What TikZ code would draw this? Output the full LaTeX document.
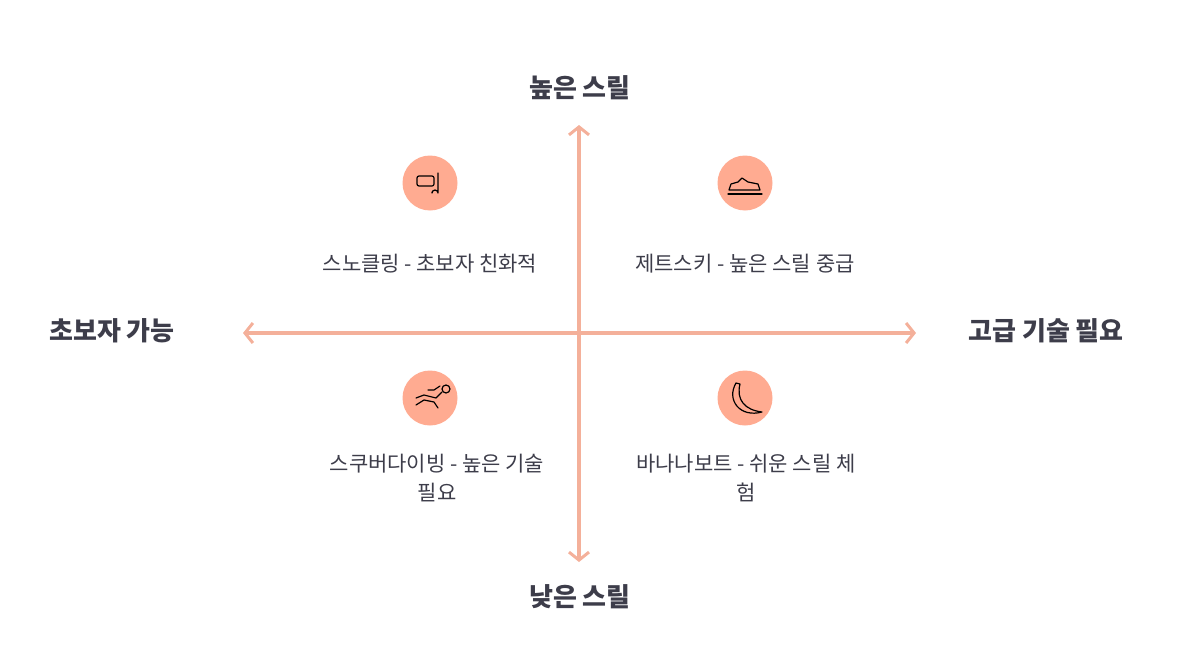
\documentclass[tikz,border=0pt]{standalone}
\usepackage{fontspec}
\setmainfont{Noto Sans CJK KR}
\usetikzlibrary{arrows.meta}
\definecolor{ax}{HTML}{F4B09A}
\definecolor{circ}{HTML}{FFAB91}
\definecolor{txt}{HTML}{3D3D4A}
\tikzset{
 axis/.style={draw=ax,line width=3.5pt,-{Straight Barb[length=8pt,width=20pt,line width=3pt]}},
 dot/.style={circle,fill=circ,minimum size=55pt,inner sep=0pt},
 big/.style={font=\fontsize{26}{30}\selectfont\bfseries,text=txt},
 lab/.style={font=\fontsize{21}{29}\selectfont,text=txt,align=center},
 ic/.style={draw=black,line width=1.2pt,line cap=round,line join=round}
}
\begin{document}
\begin{tikzpicture}[x=1pt,y=-1pt]
\useasboundingbox (0,0) rectangle (1187,653);
\coordinate (c) at (579,333);
\coordinate (l) at (243,333);
\coordinate (r) at (916,333);
\coordinate (t) at (579,125);
\coordinate (b) at (579,562);
\draw[axis] (c) -- (l);
\draw[axis] (c) -- (r);
\draw[axis] (c) -- (t);
\draw[axis] (c) -- (b);
\node[big] (hi) at (580,88) {높은 스릴};
\node[big] (lo) at (580,597) {낮은 스릴};
\node[big] (beg) at (112,331) {초보자 가능};
\node[big] (adv) at (1046,331) {고급 기술 필요};
\node[dot] (s1) at (430,183) {};
\node[dot] (s2) at (745,183) {};
\node[dot] (s3) at (430,398) {};
\node[dot] (s4) at (745,398) {};
\node[lab] at (430,264) {스노클링 - 초보자 친화적};
\node[lab] at (745,264) {제트스키 - 높은 스릴 중급};
\node[lab] at (437,478) {스쿠버다이빙 - 높은 기술\\필요};
\node[lab] at (746,478) {바나나보트 - 쉬운 스릴 체\\험};
% snorkel
\draw[ic,rounded corners=2pt] (417,176) rectangle (434,186);
\draw[ic] (438,173) -- (438,193) arc (0:-180:3) -- (432,192);
% jetski
\draw[ic] (729,190) -- (760,190) -- (758,184) -- (748,182) -- (742,178) -- (738,182) -- (731,184) -- cycle;
\draw[ic] (728,194) -- (762,194);
% diver
\draw[ic] (416,398) -- (424,395) -- (436,398) -- (442,392);
\draw[ic] (416,405) -- (424,400) -- (434,402) -- (438,408);
\draw[ic] (440,386) -- (434,390) -- (428,390);
\draw[ic] (446,389) circle (4);
% banana
\draw[ic] (736,383) .. controls (726,400) and (740,418) .. (762,412) .. controls (745,410) and (736,400) .. (740,384) -- cycle;
\end{tikzpicture}
\end{document}
